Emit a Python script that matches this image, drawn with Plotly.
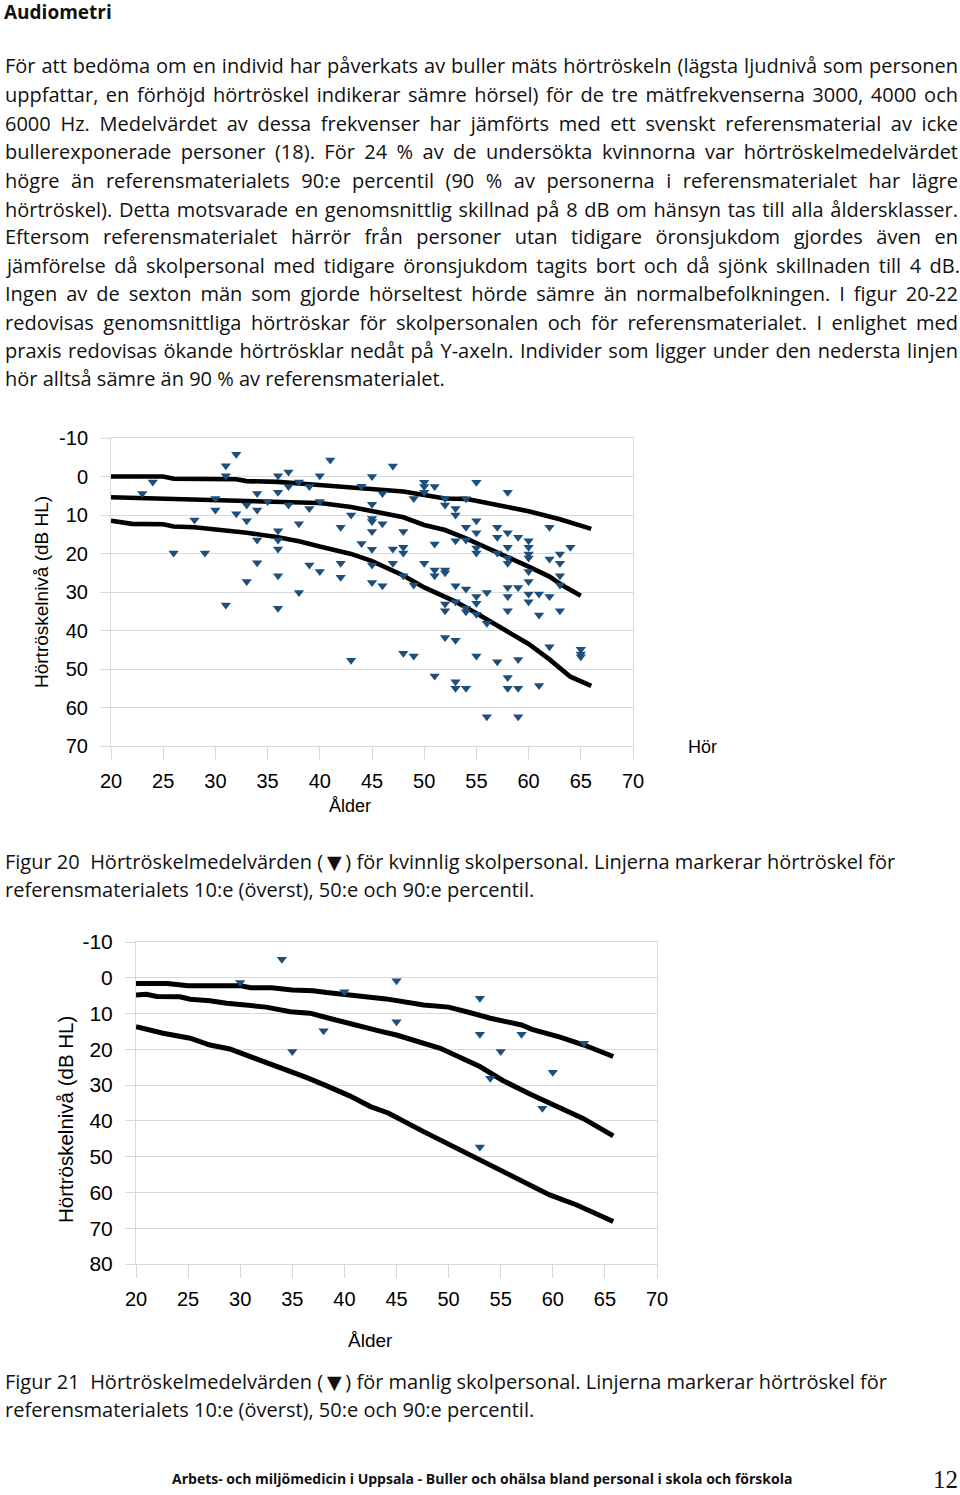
import json
import plotly.graph_objects as go

W, H = 960, 1495

# ---------------- data: Figur 20 (kvinnor) ----------------
f_age = [23, 24, 26, 29, 28, 30, 30, 31, 31, 32, 32, 33, 33, 33, 34, 34, 34, 34, 35, 36, 36, 36, 36, 36, 36,
         37, 37, 37, 38, 38, 38, 39, 39, 39, 40, 40, 40, 41, 42, 42, 42, 43, 44, 44,
         31, 36, 43,
         45, 47, 46, 45, 45, 45, 46, 45, 45, 47, 48, 48, 48, 47, 45, 45, 46, 48, 49, 49, 50, 50, 50, 51, 50,
         51, 51, 51, 52, 52, 52, 52, 53, 53, 53, 53, 54, 54, 54, 54, 55, 55, 55, 55, 55, 55, 56, 57, 57, 57,
         58, 58, 58, 58, 58, 58, 58, 59, 59, 60, 60, 60, 60, 60, 60, 60, 61, 62, 62, 62, 63, 63, 63, 63, 64,
         55, 52, 52, 53, 54, 54, 55, 56, 58, 60, 61, 63, 52, 53, 48, 49, 55, 57, 59, 62, 65, 65, 65,
         51, 53, 53, 54, 58, 58, 59, 61, 56, 59]
f_db = [4.4, 1.4, 19.9, 19.9, 11.3, 5.7, 8.7, -2.8, -0.2, -5.8, 9.7, 7.4, 11.5, 27.3, 4.4, 8.7, 16.5, 22.4, 6.5,
        -0.2, 4.1, 14.1, 16.5, 18.8, 25.8,
        -1.2, 2.6, 7.4, 1.4, 12.3, 30.1, 2.6, 8.3, 23.0, -0.2, 6.5, 24.7, -4.3, 13.2, 22.5, 26.2, 10.0, 17.4, 2.5,
        33.4, 34.2, 47.7,
        0.0, -2.7, 4.4, 7.2, 10.9, 11.7, 12.3, 14.3, 18.9, 18.8, 14.3, 18.4, 19.9, 22.5, 23.0, 27.5, 28.4, 25.8,
        5.7, 28.2, 1.5, 2.6, 4.1, 2.6, 22.5,
        17.5, 24.3, 25.8, 5.7, 7.4, 24.3, 25.0, 8.3, 10.0, 16.7, 28.4, 5.8, 13.2, 16.5, 29.2, 1.5, 11.5, 14.6,
        18.6, 19.9, 31.2, 30.1, 13.2, 15.8, 19.9,
        4.1, 14.6, 18.4, 21.2, 22.5, 28.8, 31.2, 15.8, 28.8, 16.7, 18.4, 20.1, 21.2, 24.7, 27.3, 30.5, 30.5,
        13.2, 21.4, 31.2, 20.1, 22.5, 25.8, 28.2, 18.4,
        32.9, 33.1, 34.9, 32.5, 34.2, 35.1, 35.8, 38.1, 34.9, 32.5, 36.0, 34.9, 41.8, 42.5, 45.9, 46.6, 46.6,
        48.1, 47.5, 44.2, 44.9, 46.1, 46.8,
        51.8, 53.3, 55.0, 55.0, 52.2, 55.0, 55.0, 54.3, 62.4, 62.4]

f_p10_age = [20, 25, 26, 32, 33, 36, 39, 41, 44, 48, 52, 54, 57, 60, 63, 66]
f_p10_db = [0.0, 0.0, 0.6, 0.7, 1.2, 1.4, 2.0, 2.4, 2.9, 3.9, 5.7, 5.8, 7.4, 9.0, 11.1, 13.6]
f_p50_age = [20, 26, 29, 36, 40, 43, 45, 48, 50, 52, 54, 57.6, 60, 62, 63.3, 65]
f_p50_db = [5.4, 5.8, 6.1, 6.5, 6.9, 7.9, 9.0, 10.6, 12.6, 13.9, 16.1, 20.3, 23.4, 26.0, 28.4, 31.0]
f_p90_age = [20, 22, 25, 26, 28, 31, 33, 36, 38, 40, 43, 45, 48, 50, 53, 55, 57, 60, 62, 64, 66]
f_p90_db = [11.5, 12.3, 12.4, 13.0, 13.2, 13.9, 14.6, 15.8, 16.8, 18.2, 20.1, 22.0, 25.7, 28.8, 32.5, 35.5,
            38.8, 43.5, 47.5, 52.0, 54.4]

# ---------------- data: Figur 21 (män) ----------------
m_age = [34, 30, 40, 45, 38, 35, 45, 53, 53, 57, 55, 63, 54, 60, 59, 53]
m_db = [-5.2, 1.3, 3.9, 0.8, 14.8, 20.6, 12.3, 5.7, 15.8, 15.8, 20.6, 18.3, 28.1, 26.4, 36.5, 47.3]

m_p10_age = [20, 23, 25, 30, 31, 33, 35, 37, 38.3, 41, 43, 44, 47.6, 50, 52, 54, 57, 58, 60.7, 63, 65.8]
m_p10_db = [1.6, 1.6, 2.2, 2.2, 2.8, 2.8, 3.4, 3.6, 4.1, 4.8, 5.3, 5.9, 7.6, 8.2, 9.7, 11.3, 13.2, 14.4, 16.6,
            18.8, 22.0]
m_p50_age = [20, 21, 22, 24.2, 25.2, 27.1, 28.7, 30.3, 32.5, 34.8, 36.7, 38.9, 41.5, 43.4, 45, 46.9, 49.2, 53,
             55.2, 57.8, 60.4, 62.9, 65.8]
m_p50_db = [4.8, 4.6, 5.2, 5.3, 6.0, 6.4, 7.1, 7.6, 8.2, 9.5, 9.9, 11.6, 13.7, 14.9, 16.0, 17.6, 19.7, 24.8,
            28.7, 32.5, 36.0, 39.3, 44.2]
m_p90_age = [20, 22.6, 25.2, 27.1, 29, 30.9, 32.5, 34.1, 36.4, 38.3, 40.5, 42.5, 44.2, 47.6, 50.8, 54, 56.5,
             59.7, 62.3, 65.8]
m_p90_db = [13.7, 15.5, 16.9, 18.8, 19.9, 22.0, 23.4, 25.3, 27.9, 30.2, 33.0, 36.0, 37.8, 43.0, 47.6, 52.3,
            56.0, 60.7, 63.5, 68.1]

# ---------------- tick labels ----------------
x_ticks = [20, 25, 30, 35, 40, 45, 50, 55, 60, 65, 70]
x_ticktext = ["20", "25", "30", "35", "40", "45", "50", "55", "60", "65", "70"]
y1_ticks = [-10, 0, 10, 20, 30, 40, 50, 60, 70]
y1_ticktext = ["-10", "0", "10", "20", "30", "40", "50", "60", "70"]
y2_ticks = [-10, 0, 10, 20, 30, 40, 50, 60, 70, 80]
y2_ticktext = ["-10", "0", "10", "20", "30", "40", "50", "60", "70", "80"]

# ---------------- texts ----------------
title_text = "Audiometri"
paragraph = [
    "För att bedöma om en individ har påverkats av buller mäts hörtröskeln (lägsta ljudnivå som personen",
    "uppfattar, en förhöjd hörtröskel indikerar sämre hörsel) för de tre mätfrekvenserna 3000, 4000 och",
    "6000 Hz. Medelvärdet av dessa frekvenser har jämförts med ett svenskt referensmaterial av icke",
    "bullerexponerade personer (18). För 24 % av de undersökta kvinnorna var hörtröskelmedelvärdet",
    "högre än referensmaterialets 90:e percentil (90 % av personerna i referensmaterialet har lägre",
    "hörtröskel). Detta motsvarade en genomsnittlig skillnad på 8 dB om hänsyn tas till alla åldersklasser.",
    "Eftersom referensmaterialet härrör från personer utan tidigare öronsjukdom gjordes även en",
    "jämförelse då skolpersonal med tidigare öronsjukdom tagits bort och då sjönk skillnaden till 4 dB.",
    "Ingen av de sexton män som gjorde hörseltest hörde sämre än normalbefolkningen. I figur 20-22",
    "redovisas genomsnittliga hörtröskar för skolpersonalen och för referensmaterialet. I enlighet med",
    "praxis redovisas ökande hörtrösklar nedåt på Y-axeln. Individer som ligger under den nedersta linjen",
    "hör alltså sämre än 90 % av referensmaterialet.",
]
TRI = "<span style=\"font-family:'DejaVu Sans';font-size:19px\">\u2009▼\u2009</span>"
cap20 = ["Figur 20\u00a0 Hörtröskelmedelvärden (" + TRI + ") för kvinnlig skolpersonal. Linjerna markerar hörtröskel för",
         "referensmaterialets 10:e (överst), 50:e och 90:e percentil."]
cap21 = ["Figur 21\u00a0 Hörtröskelmedelvärden (" + TRI + ") för manlig skolpersonal. Linjerna markerar hörtröskel för",
         "referensmaterialets 10:e (överst), 50:e och 90:e percentil."]
footer = "Arbets- och miljömedicin i Uppsala - Buller och ohälsa bland personal i skola och förskola"
page_no = "12"
y_title = "Hörtröskelnivå (dB HL)"
x_title = "Ålder"

# ---------------- styling / layout ----------------
BODY = "'Open Sans', 'Noto Sans', sans-serif"
TICK = "'Liberation Sans Narrow', 'Arial Narrow', 'Liberation Sans', Arial, sans-serif"
ARIAL = "'Liberation Sans', Arial, sans-serif"
MARK = "#1d4f7c"
GRID = "#d9d9d9"


def px(x):
    return x / W


def py(y):
    return 1 - y / H


fig = go.Figure()

for a, d in [(f_p10_age, f_p10_db), (f_p50_age, f_p50_db), (f_p90_age, f_p90_db)]:
    fig.add_trace(go.Scatter(x=a, y=d, mode="lines", line=dict(color="black", width=4.6),
                             xaxis="x", yaxis="y", hoverinfo="skip", showlegend=False))
fig.add_trace(go.Scatter(x=f_age, y=f_db, mode="markers",
                         marker=dict(symbol="triangle-down", size=9, color=MARK, line=dict(width=0)),
                         xaxis="x", yaxis="y", showlegend=False))

for a, d in [(m_p10_age, m_p10_db), (m_p50_age, m_p50_db), (m_p90_age, m_p90_db)]:
    fig.add_trace(go.Scatter(x=a, y=d, mode="lines", line=dict(color="black", width=5),
                             xaxis="x2", yaxis="y2", hoverinfo="skip", showlegend=False))
fig.add_trace(go.Scatter(x=m_age, y=m_db, mode="markers",
                         marker=dict(symbol="triangle-down", size=9, color=MARK, line=dict(width=0)),
                         xaxis="x2", yaxis="y2", showlegend=False))

common = dict(showline=True, linecolor=GRID, linewidth=1, mirror=True, ticks="outside",
              tickcolor=GRID, tickwidth=1, zeroline=False, tickmode="array", fixedrange=True,
              automargin=False)

fig.update_layout(
    width=W, height=H, margin=dict(l=0, r=0, t=0, b=0, pad=0, autoexpand=False),
    paper_bgcolor="white", plot_bgcolor="white", showlegend=False,
    xaxis=dict(domain=[px(111), px(633)], range=[20, 70], tickvals=x_ticks, ticktext=x_ticktext,
               showgrid=False, ticklen=13, ticklabelstandoff=4, anchor="y",
               tickfont=dict(family=TICK, size=20, color="black"), **common),
    yaxis=dict(domain=[py(746), py(438)], range=[70, -10], tickvals=y1_ticks, ticktext=y1_ticktext,
               showgrid=True, gridcolor=GRID, gridwidth=1, ticklen=10, ticklabelstandoff=8, anchor="x",
               tickfont=dict(family=TICK, size=20, color="black"), **common),
    xaxis2=dict(domain=[px(136), px(657)], range=[20, 70], tickvals=x_ticks, ticktext=x_ticktext,
                showgrid=False, ticklen=13, ticklabelstandoff=4, anchor="y2",
                tickfont=dict(family=TICK, size=20, color="black"), **common),
    yaxis2=dict(domain=[py(1264), py(942)], range=[80, -10], tickvals=y2_ticks, ticktext=y2_ticktext,
                showgrid=True, gridcolor=GRID, gridwidth=1, ticklen=10, ticklabelstandoff=8, anchor="x2",
                tickfont=dict(family=TICK, size=21, color="black"), **common),
)

ann = []


def add_text(text, x, y, size, family=BODY, xanchor="left", bold=False, angle=0, color="#111111",
             pad=1, yanchor="middle"):
    t = "<b>%s</b>" % text if bold else text
    ann.append(dict(text=t, x=px(x), y=py(y), xref="paper", yref="paper", xanchor=xanchor,
                    yanchor=yanchor, showarrow=False, textangle=angle, align="left", borderpad=pad,
                    font=dict(family=family, size=size, color=color)))


add_text(title_text, 3, 12.5, 19, bold=True, pad=0)
para_y = [66, 95, 123, 152, 180, 209, 237, 265, 294, 322, 350, 378]
for line, yy in zip(paragraph, para_y):
    add_text(line, 3, yy, 20)

add_text(y_title, 41, 592, 19, family=ARIAL, xanchor="center", angle=-90, color="black")
add_text(x_title, 350, 806, 18, family=ARIAL, xanchor="center", color="black")
add_text("Hör", 686, 747, 18, family=ARIAL, color="black")
add_text(cap20[0], 3, 861, 20)
add_text(cap20[1], 3, 889, 20)

add_text(y_title, 65, 1120, 20.5, family=ARIAL, xanchor="center", angle=-90, color="black")
add_text(x_title, 370, 1340, 19, family=ARIAL, xanchor="center", color="black")
add_text(cap21[0], 3, 1381, 20)
add_text(cap21[1], 3, 1409, 20)

add_text(footer, 482, 1478, 14, xanchor="center", bold=True)
add_text(page_no, 959, 1494, 25, family="'Liberation Serif', 'DejaVu Serif', serif", xanchor="right",
         pad=0, yanchor="bottom")

fig.update_layout(annotations=ann)

# page placement (no browser margins) + justify the full paragraph lines to the text block width
targets = {line: 953 for line in paragraph[:-1]}
post = """
(function(){
  var gd = document.getElementById('{plot_id}');
  try {
    document.documentElement.style.margin = '0';
    document.documentElement.style.padding = '0';
    document.documentElement.style.overflow = 'hidden';
    document.body.style.margin = '0';
    document.body.style.padding = '0';
    document.body.style.overflow = 'hidden';
    gd.style.position = 'absolute';
    gd.style.left = '0px';
    gd.style.top = '0px';
  } catch (e) {}
  var targets = TARGETS;
  function run(){
    try {
      var ts = gd.querySelectorAll('text.annotation-text');
      ts.forEach(function(t){
        var s = t.textContent;
        if (!(s in targets)) return;
        var n = (s.match(/ /g) || []).length;
        if (!n) return;
        t.style.wordSpacing = '0px';
        var w = t.getComputedTextLength();
        t.style.wordSpacing = ((targets[s] - w) / n) + 'px';
      });
    } catch (e) {}
  }
  run();
  if (gd.on) { gd.on('plotly_afterplot', run); }
})();
""".replace("TARGETS", json.dumps(targets, ensure_ascii=False))

fig.write_html("out.html", post_script=post, config={"displayModeBar": False})
